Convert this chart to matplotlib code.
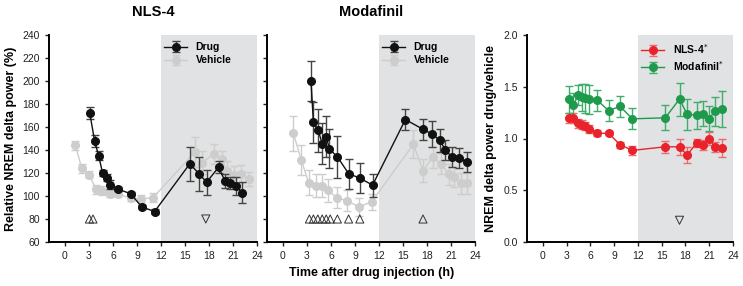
import numpy as np
import matplotlib
matplotlib.use('Agg')
import matplotlib.pyplot as plt

plt.rcParams['font.family'] = ['Liberation Sans', 'DejaVu Sans']

# NLS-4 panel
nls_drug_t = [3.1, 3.7, 4.2, 4.7, 5.2, 5.6, 6.6, 8.2, 9.6, 11.2, 15.6, 16.8, 17.7, 19.2, 20.0, 20.6, 21.4, 22.1]
nls_drug = [172, 148, 135, 120, 116, 110, 106, 102, 90.5, 86.5, 128, 119, 112, 125, 113, 111.5, 108.5, 103]
nls_drug_err = [5, 5, 4, 3, 3, 4, 2, 1.5, 2, 2, 15, 15, 11, 5, 6, 5, 8, 9]
nls_veh_t = [1.3, 2.1, 3.0, 3.9, 4.6, 5.6, 6.6, 8.2, 9.5, 11.0, 16.2, 17.1, 18.6, 19.6, 20.2, 21.1, 22.0, 23.0]
nls_veh = [144, 124, 118.5, 106, 104.5, 102, 102, 98, 97.5, 98.5, 138, 129, 136.5, 132, 122, 118, 119, 115]
nls_veh_err = [4, 4, 3, 4, 4, 3, 3, 2, 3, 4, 13, 10, 9, 7, 8, 8, 8, 6]
nls_sig_up = [3.05, 3.5]
nls_sig_down = [17.6]

# Modafinil panel
mod_drug_t = [3.5, 3.8, 4.4, 4.9, 5.4, 5.8, 6.8, 8.2, 9.6, 11.2, 15.3, 17.5, 18.6, 19.6, 20.3, 21.1, 22.0, 23.0]
mod_drug = [200, 164, 157, 145.5, 151.5, 141, 134, 119.5, 115.5, 109.5, 166.5, 158, 154, 148.5, 140, 134, 133, 129.5]
mod_drug_err = [17, 18, 19, 18, 18, 17, 18, 13, 13, 10, 9, 9, 11, 10, 9, 9, 9, 9]
mod_veh_t = [1.3, 2.3, 3.2, 4.1, 4.9, 5.65, 6.7, 8.0, 9.5, 11.1, 16.3, 17.5, 18.7, 19.8, 20.7, 21.4, 22.2, 23.0]
mod_veh = [154.5, 131, 111.5, 109, 109, 105, 98.5, 96, 90.5, 95, 145, 122, 133.5, 128, 119, 116.5, 111, 111]
mod_veh_err = [15, 13, 11, 10, 10, 10, 9, 9, 8, 7, 12, 10, 9, 9, 9, 9, 9, 9]
mod_sig_up = [3.3, 3.8, 4.35, 4.9, 5.4, 5.9, 6.8, 8.2, 9.6, 17.5]

# ratio panel
ratio_t = [3.35, 3.85, 4.45, 4.95, 5.35, 5.8, 6.85, 8.3, 9.75, 11.3, 15.45, 17.25, 18.2, 19.45, 20.2, 21.0, 21.7, 22.6]
ratio_nls = [1.20, 1.20, 1.145, 1.135, 1.12, 1.09, 1.05, 1.05, 0.94, 0.885, 0.92, 0.92, 0.84, 0.96, 0.935, 1.00, 0.915, 0.91]
ratio_nls_err = [0.05, 0.05, 0.04, 0.04, 0.04, 0.04, 0.03, 0.02, 0.03, 0.04, 0.06, 0.08, 0.08, 0.04, 0.05, 0.06, 0.05, 0.09]
ratio_mod = [1.38, 1.32, 1.42, 1.40, 1.39, 1.38, 1.37, 1.27, 1.31, 1.19, 1.20, 1.38, 1.235, 1.225, 1.24, 1.19, 1.265, 1.285]
ratio_mod_err = [0.13, 0.12, 0.10, 0.13, 0.14, 0.14, 0.10, 0.10, 0.10, 0.10, 0.12, 0.16, 0.15, 0.13, 0.12, 0.12, 0.14, 0.17]
ratio_sig_down = [17.25]

W, H = 743, 286
fig = plt.figure(figsize=(W/100, H/100), dpi=100)

def box(l, r, t, b):
    return [l/W, 1-b/H, (r-l)/W, (b-t)/H]

ax1 = fig.add_axes(box(49, 257, 35, 242))
ax2 = fig.add_axes(box(267, 475, 35, 242))
ax3 = fig.add_axes(box(527, 733, 35, 242))

blk = '#111111'
gry = '#cdcdcd'
tri = dict(s=34, facecolors='none', edgecolors='#333333', lw=0.7, zorder=4)

for ax in (ax1, ax2, ax3):
    ax.axvspan(12, 24, color='#e1e2e3', lw=0, zorder=0)
    ax.spines['top'].set_visible(False)
    ax.spines['right'].set_visible(False)
    ax.spines['left'].set_linewidth(1.4)
    ax.spines['bottom'].set_linewidth(1.4)
    ax.set_xlim(-2, 24)
    ax.set_xticks(range(0, 25, 3))
    ax.tick_params(labelsize=7.5, length=3, width=1, colors='#222222')

def draw_pair(ax, dt, d, de, vt, v, ve):
    ax.errorbar(vt, v, yerr=ve, color=gry, ecolor=gry, marker='o', ms=5.5, lw=1,
                capsize=3, elinewidth=1, capthick=1, label='Vehicle', zorder=2)
    ax.errorbar(dt, d, yerr=de, color=blk, ecolor='#444444', marker='o', ms=5.5, lw=1,
                capsize=3, elinewidth=1, capthick=1, label='Drug', zorder=3)

draw_pair(ax1, nls_drug_t, nls_drug, nls_drug_err, nls_veh_t, nls_veh, nls_veh_err)
draw_pair(ax2, mod_drug_t, mod_drug, mod_drug_err, mod_veh_t, mod_veh, mod_veh_err)

ax1.scatter(nls_sig_up, [80]*len(nls_sig_up), marker='^', **tri)
ax1.scatter(nls_sig_down, [80]*len(nls_sig_down), marker='v', **tri)
ax2.scatter(mod_sig_up, [80]*len(mod_sig_up), marker='^', **tri)

for ax in (ax1, ax2):
    ax.set_ylim(60, 240)
    ax.set_yticks(range(60, 241, 20))
    h, l = ax.get_legend_handles_labels()
    ax.legend(h[::-1], l[::-1], loc='upper left', bbox_to_anchor=(0.52, 1.0), frameon=False,
              prop={'weight': 'bold', 'size': 7.5}, handlelength=2.2, borderaxespad=0.3,
              labelspacing=0.3)
ax2.tick_params(labelleft=False)
ax1.set_title('NLS-4', fontsize=10.5, fontweight='bold', pad=14)
ax2.set_title('Modafinil', fontsize=10.5, fontweight='bold', pad=14)
ax1.set_ylabel('Relative NREM delta power (%)', fontsize=9, fontweight='bold', labelpad=4)

red = '#e8232b'
green = '#1f9a4c'
ax3.errorbar(ratio_t, ratio_nls, yerr=ratio_nls_err, color=red, ecolor='#ef6a6a', marker='o',
             ms=5.5, lw=1, capsize=3, elinewidth=1, capthick=1, label='NLS-4$^{*}$', zorder=3)
ax3.errorbar(ratio_t, ratio_mod, yerr=ratio_mod_err, color=green, ecolor='#3fae6a', marker='o',
             ms=5.5, lw=1, capsize=3, elinewidth=1, capthick=1, label='Modafinil$^{*}$', zorder=3)
ax3.scatter(ratio_sig_down, [0.21]*len(ratio_sig_down), marker='v', **tri)
ax3.set_ylim(0, 2.0)
ax3.set_yticks([0.0, 0.5, 1.0, 1.5, 2.0])
ax3.yaxis.set_major_formatter(matplotlib.ticker.FormatStrFormatter('%.1f'))
ax3.set_ylabel('NREM delta power drug/vehicle', fontsize=9, fontweight='bold', labelpad=5)
ax3.legend(loc='upper left', bbox_to_anchor=(0.52, 1.0), frameon=False,
           prop={'weight': 'bold', 'size': 7.5}, handlelength=2.2, borderaxespad=0.3,
           labelspacing=0.3)

fig.text(0.5, 0.035, 'Time after drug injection (h)', ha='center', fontsize=9, fontweight='bold')

fig.savefig('out.png', dpi=100)
